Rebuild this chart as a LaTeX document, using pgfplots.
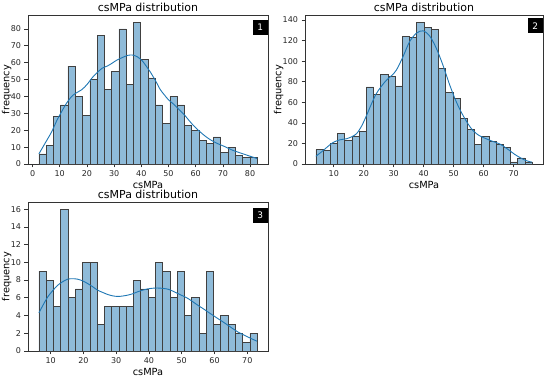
\documentclass[border=0pt]{standalone}
\usepackage{pgfplots}
\pgfplotsset{compat=1.18}
\usepackage{fontspec}
\setmainfont{DejaVu Sans}
\definecolor{barfill}{RGB}{143,187,217}
\definecolor{kde}{RGB}{31,119,180}
\tikzset{
  tag/.style={fill=black, text=white, anchor=north east, inner sep=0pt,
    minimum width=15pt, minimum height=15pt, font=\fontsize{9}{10}\selectfont},
}
\pgfplotsset{
  hist/.style={
    scale only axis,
    width=240pt, height=149pt,
    axis line style={black!80, line width=0.6pt},
    tick align=outside,
    xtick pos=bottom, ytick pos=left,
    major tick length=3.5pt,
    tick style={black!80, line width=0.6pt},
    /pgf/number format/assume math mode=true,
    ticklabel style={font=\fontsize{8}{9}\selectfont, text=black!85},
    xlabel={csMPa}, ylabel={frequency},
    label style={font=\fontsize{9.8}{11}\selectfont},
    title={csMPa distribution},
    title style={font=\fontsize{11}{12}\selectfont, yshift=-6pt},
    xlabel style={yshift=3pt},
    ylabel style={yshift=-7.5pt},
    ymin=0,
    clip=false,
  },
  bars/.style={ybar interval, fill=barfill, draw=black!75, line width=0.6pt},
  kdeline/.style={kde, line width=0.9pt, smooth, mark=none},
}
\begin{document}
\begin{tikzpicture}
\useasboundingbox (0,0) rectangle (550pt,-377pt);
% Panel 1
\begin{axis}[hist, at={(28pt,-15pt)}, anchor=north west,
  xmin=-1.68, xmax=86.61, ymax=88.2,
  xtick={0,10,...,80}, ytick={0,10,...,80}]
\addplot[bars] coordinates {
(2.33,6) (5.01,11) (7.68,28) (10.36,35) (13.03,58) (15.71,40) (18.38,29) (21.06,50) (23.74,76) (26.41,44)
(29.09,55) (31.76,80) (34.44,47) (37.11,84) (39.79,62) (42.47,51) (45.14,35) (47.82,24) (50.49,40) (53.17,35)
(55.84,23) (58.52,20) (61.20,14) (63.87,12) (66.55,16) (69.22,7) (71.90,10) (74.57,5) (77.25,4) (79.93,4)
(82.60,4)};
\addplot[kdeline] coordinates {
(2.33,6) (4.5,12) (7,19) (9,26) (10.7,31) (12.5,36) (14.4,40) (16,42) (18.1,44) (20,47) (21.9,51) (23.7,54)
(25.6,56.7) (27.5,58) (29.3,59.7) (31,61.5) (33,63) (35,64.3) (36.7,64.5) (38.5,63.5) (40.4,61) (42,57.5)
(43.5,54) (45.4,48.8) (47,44) (48.5,40.9) (50,38) (52.2,35) (54,32) (55.9,29) (57.7,25.5) (59.6,22.1)
(62,18.5) (64.6,15.2) (67.5,12.5) (70.7,10.3) (73.5,8.2) (76.9,6.3) (80,4.6) (82.6,3.2)};
\node[tag] at (rel axis cs:1,0.97) {1};
\end{axis}
% Panel 2
\begin{axis}[hist, at={(305pt,-15pt)}, anchor=north west, width=238pt,
  xmin=0.39, xmax=79.81, ymax=144.9,
  xtick={10,20,...,70}, ytick={0,20,...,140}]
\addplot[bars] coordinates {
(4.00,14) (6.41,13) (8.81,20) (11.22,30) (13.63,23) (16.03,27) (18.44,32) (20.85,75) (23.25,68) (25.66,87)
(28.07,85) (30.47,76) (32.88,124) (35.29,123) (37.69,138) (40.10,133) (42.51,131) (44.91,93) (47.32,70) (49.73,64)
(52.13,44) (54.54,34) (56.95,19) (59.35,27) (61.76,22) (64.17,19) (66.57,16) (68.98,2) (71.39,6) (73.79,2)
(76.20,2)};
\addplot[kdeline] coordinates {
(4,7.5) (6,12) (8,17) (9.8,21) (12,23.5) (14.2,24.5) (16,26.5) (17.6,29.5) (19.3,37) (20.9,47) (22.5,58)
(24.2,68.5) (26,76) (27.6,81.6) (29.3,86) (30.9,91.4) (33.1,104.4) (35.3,119) (37.6,127.3) (39.8,129.5)
(42,124.5) (44.2,112.6) (46.4,96.3) (48.7,76.7) (50.9,60.3) (53.1,47.3) (54.8,39) (56.4,32.6) (58.6,27.5)
(60.9,24.5) (63,22) (65.3,19.6) (67,16.5) (68.7,13) (70.3,9.5) (72,6.5) (73.6,4) (75.3,2.3) (76.2,1.8)};
\node[tag] at (rel axis cs:1,0.98) {2};
\end{axis}
% Panel 3
\begin{axis}[hist, at={(28pt,-202pt)}, anchor=north west,
  xmin=3.07, xmax=76.33, ymax=16.8,
  xtick={10,20,...,70}, ytick={0,2,...,16}]
\addplot[bars] coordinates {
(6.40,9) (8.62,8) (10.84,5) (13.06,16) (15.28,6) (17.50,7) (19.72,10) (21.94,10) (24.16,3) (26.38,5)
(28.60,5) (30.82,5) (33.04,5) (35.26,8) (37.48,7) (39.70,6) (41.92,10) (44.14,9) (46.36,6) (48.58,9)
(50.80,4) (53.02,6) (55.24,2) (57.46,9) (59.68,3) (61.90,4) (64.12,3) (66.34,2) (68.56,1) (70.78,2)
(73.00,2)};
\addplot[kdeline] coordinates {
(6.4,4.3) (7.7,5.2) (9.1,6.1) (10.6,6.8) (12.1,7.4) (13.6,7.8) (15.2,8.1) (16.7,8.15) (18.2,8.1) (19.8,7.9)
(21.3,7.6) (22.8,7.25) (24.3,6.86) (25.9,6.6) (27.4,6.37) (28.9,6.22) (30.4,6.15) (32,6.2) (33.5,6.3) (35,6.45)
(36.5,6.67) (38,6.85) (39.6,7.0) (41.2,7.08) (42.7,7.1) (44.2,7.06) (45.8,6.97) (47.3,6.75) (48.8,6.48)
(50.4,6.2) (51.9,5.92) (53.4,5.55) (54.9,5.16) (56.5,4.78) (58,4.4) (59.5,4.03) (61,3.66) (62.6,3.28)
(64.1,2.9) (65.6,2.52) (67.1,2.15) (68.7,1.85) (70.2,1.58) (71.5,1.35) (73,1.1)};
\node[tag] at (rel axis cs:1,0.96) {3};
\end{axis}
\end{tikzpicture}
\end{document}
